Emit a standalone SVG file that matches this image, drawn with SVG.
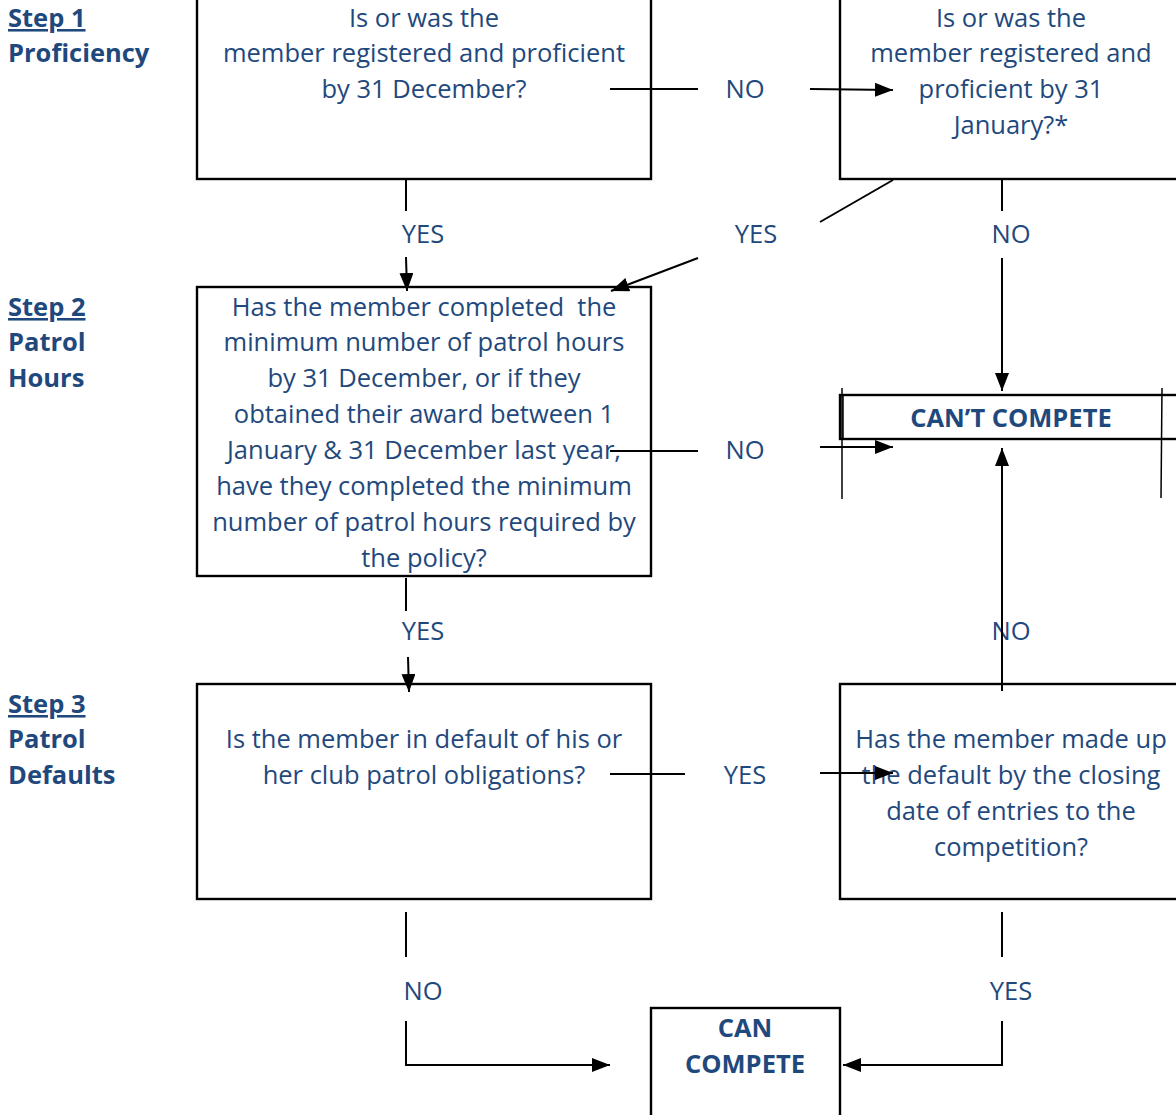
<svg xmlns="http://www.w3.org/2000/svg" width="1176" height="1115" viewBox="0 0 1176 1115">
<style>
text{font-family:"Open Sans","Noto Sans",sans-serif;font-size:25.5px;fill:#1F497D}
.c{text-anchor:middle}
.b{font-weight:bold}
.u{text-decoration:underline}
.box{fill:#fff;stroke:#000;stroke-width:2.4}
.ln{fill:none;stroke:#000;stroke-width:2}
.thin{fill:none;stroke:#000;stroke-width:1.5}
</style>
<defs>
<marker id="a" viewBox="0 0 18 14" refX="18" refY="7" markerWidth="18" markerHeight="14" markerUnits="userSpaceOnUse" orient="auto">
<path d="M0,0 L18,7 L0,14 z" fill="#000"/>
</marker>
</defs>
<rect width="1176" height="1115" fill="#fff"/>

<g id="steps">
<text x="8" y="27" class="b u">Step 1</text>
<text x="8" y="62" class="b">Proficiency</text>
<text x="8" y="316" class="b u">Step 2</text>
<text x="8" y="351" class="b">Patrol</text>
<text x="8" y="387" class="b">Hours</text>
<text x="8" y="713" class="b u">Step 3</text>
<text x="8" y="748" class="b">Patrol</text>
<text x="8" y="784" class="b">Defaults</text>
</g>

<g id="q1">
<rect class="box" x="197" y="-5" width="454" height="184"/>
<text class="c" x="424" y="27">Is or was the</text>
<text class="c" x="424" y="62">member registered and proficient</text>
<text class="c" x="424" y="98">by 31 December?</text>
</g>

<g id="q2">
<rect class="box" x="840" y="-5" width="345" height="184"/>
<text class="c" x="1011" y="27">Is or was the</text>
<text class="c" x="1011" y="62">member registered and</text>
<text class="c" x="1011" y="98">proficient by 31</text>
<text class="c" x="1011" y="134">January?*</text>
</g>

<g id="q3">
<rect class="box" x="197" y="287" width="454" height="289"/>
<text class="c" x="424" y="316" xml:space="preserve">Has the member completed  the</text>
<text class="c" x="424" y="351">minimum number of patrol hours</text>
<text class="c" x="424" y="387">by 31 December, or if they</text>
<text class="c" x="424" y="423">obtained their award between 1</text>
<text class="c" x="424" y="459">January &amp; 31 December last year,</text>
<text class="c" x="424" y="495">have they completed the minimum</text>
<text class="c" x="424" y="531">number of patrol hours required by</text>
<text class="c" x="424" y="567">the policy?</text>
</g>

<g id="cant">
<rect class="box" x="840" y="395" width="345" height="44"/>
<line class="thin" x1="843" y1="395" x2="843" y2="439"/>
<line class="thin" x1="842" y1="388" x2="842" y2="499"/>
<line class="thin" x1="1162" y1="388" x2="1161" y2="498"/>
<text class="c b" x="1011" y="427">CAN’T COMPETE</text>
</g>

<g id="q4">
<rect class="box" x="197" y="684" width="454" height="215"/>
<text class="c" x="424" y="748">Is the member in default of his or</text>
<text class="c" x="424" y="784">her club patrol obligations?</text>
</g>

<g id="q5">
<rect class="box" x="840" y="684" width="345" height="215"/>
<text class="c" x="1011" y="748">Has the member made up</text>
<text class="c" x="1011" y="784">the default by the closing</text>
<text class="c" x="1011" y="820">date of entries to the</text>
<text class="c" x="1011" y="856">competition?</text>
</g>

<g id="can">
<rect class="box" x="651" y="1008" width="189" height="120"/>
<text class="c b" x="745" y="1037">CAN</text>
<text class="c b" x="745" y="1073">COMPETE</text>
</g>

<g id="connectors">
<line class="ln" x1="610" y1="89" x2="698" y2="89"/>
<text class="c" x="745" y="98">NO</text>
<line class="ln" x1="810" y1="89" x2="893" y2="90" marker-end="url(#a)"/>

<line class="ln" x1="406" y1="180" x2="406" y2="211"/>
<text class="c" x="423" y="243">YES</text>
<line class="ln" x1="406" y1="257" x2="407" y2="291" marker-end="url(#a)"/>

<line class="ln" x1="893" y1="180" x2="820" y2="222"/>
<text class="c" x="756" y="243">YES</text>
<line class="ln" x1="698" y1="258" x2="611" y2="291" marker-end="url(#a)"/>

<line class="ln" x1="1002" y1="180" x2="1002" y2="211"/>
<text class="c" x="1011" y="243">NO</text>
<line class="ln" x1="1002" y1="258" x2="1002" y2="391" marker-end="url(#a)"/>

<line class="ln" x1="610" y1="451" x2="698" y2="451"/>
<text class="c" x="745" y="459">NO</text>
<line class="ln" x1="820" y1="447" x2="893" y2="447" marker-end="url(#a)"/>

<line class="ln" x1="406" y1="578" x2="406" y2="611"/>
<text class="c" x="423" y="640">YES</text>
<line class="ln" x1="408" y1="657" x2="409" y2="692" marker-end="url(#a)"/>

<text class="c" x="1011" y="640">NO</text>
<line class="ln" x1="1002" y1="691" x2="1002" y2="448" marker-end="url(#a)"/>

<line class="ln" x1="610" y1="774" x2="685" y2="774"/>
<text class="c" x="745" y="784">YES</text>
<line class="ln" x1="820" y1="773" x2="893" y2="773" marker-end="url(#a)"/>

<line class="ln" x1="406" y1="912" x2="406" y2="957"/>
<text class="c" x="423" y="1000">NO</text>
<polyline class="ln" points="406,1021 406,1065 610,1065" marker-end="url(#a)"/>

<line class="ln" x1="1002" y1="912" x2="1002" y2="957"/>
<text class="c" x="1011" y="1000">YES</text>
<polyline class="ln" points="1002,1021 1002,1065 843,1065" marker-end="url(#a)"/>
</g>
</svg>
